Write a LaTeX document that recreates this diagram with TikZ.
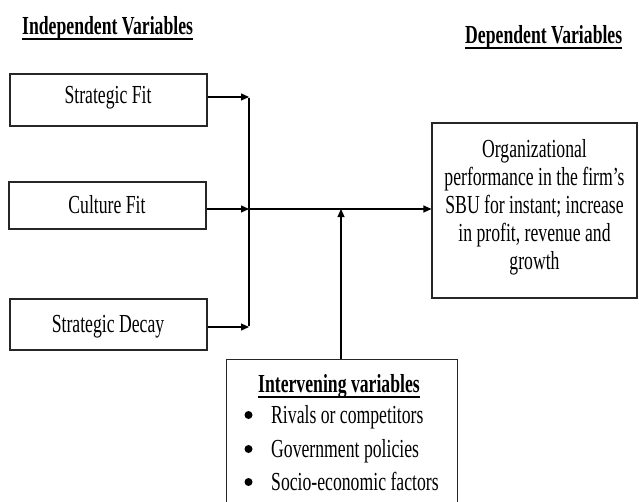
\documentclass[tikz,border=0pt]{standalone}
\usepackage{fontspec}
\setmainfont{Liberation Serif}[FakeStretch=0.68]
\usetikzlibrary{arrows.meta}
\tikzset{
  varbox/.style={draw=black!85, line width=1.1pt, rectangle, inner sep=0pt},
  conn/.style={line width=1.1pt, -{Triangle[length=8pt,width=7pt]}},
  plain/.style={line width=1.1pt},
  hdr/.style={inner sep=0pt, font=\fontsize{26}{28}\selectfont\bfseries},
  txt/.style={inner sep=0pt, font=\fontsize{26}{28}\selectfont},
  ul/.style={line width=2pt},
  dot/.style={circle, fill=black, inner sep=0pt, minimum size=8pt}
}
\begin{document}
\begin{tikzpicture}[x=1pt,y=-1pt]
\useasboundingbox[fill=white] (0,0) rectangle (639,501);
% headers
\node[hdr, anchor=base west] (indep) at (22,34) {Independent Variables};
\draw[ul] ([yshift=-5pt]indep.base west) -- ([yshift=-5pt]indep.base east);
\node[hdr, anchor=base west] (dephdr) at (465,43) {Dependent Variables};
\draw[ul] ([yshift=-5pt]dephdr.base west) -- ([yshift=-5pt]dephdr.base east);
% independent boxes
\node[varbox, minimum width=197pt, minimum height=52pt] (sf) at (108.5,100) {};
\node[txt, anchor=base] (sft) at (108,103) {Strategic Fit};
\node[varbox, minimum width=197pt, minimum height=47pt] (cf) at (107.5,205.5) {};
\node[txt, anchor=base] (cft) at (107,213) {Culture Fit};
\node[varbox, minimum width=197pt, minimum height=51pt] (sd) at (108.5,324.5) {};
\node[txt, anchor=base] (sdt) at (108,332) {Strategic Decay};
% junction coordinates
\coordinate (j1) at (249,97);
\coordinate (j2) at (249,209);
\coordinate (j3) at (249,327);
\draw[conn] (sf.east |- j1) -- (j1);
\draw[conn] (cf.east |- j2) -- (j2);
\draw[conn] (sd.east |- j3) -- (j3);
\draw[plain] ([yshift=-0.55pt]j1) -- ([yshift=0.55pt]j3);
% dependent box
\node[varbox, minimum width=205pt, minimum height=175pt] (dep) at (534.5,210.5) {};
\node[txt, align=center, anchor=base] (deptxt) at (534.5,269) {Organizational\\performance in the firm’s\\SBU for instant; increase\\in profit, revenue and\\growth};
\draw[conn] (j2) -- (dep.west |- j2);
% intervening box
\node[varbox, minimum width=231pt, minimum height=160pt, anchor=north west] (inter) at (226,359) {};
\node[hdr, anchor=base west] (intt) at (258,392) {Intervening variables};
\draw[ul] ([yshift=-5pt]intt.base west) -- ([yshift=-5pt]intt.base east);
\node[dot] (b1) at (248.5,415) {};
\node[txt, anchor=base west] (i1) at (271,423) {Rivals or competitors};
\node[dot] (b2) at (248.5,449) {};
\node[txt, anchor=base west] (i2) at (271,457) {Government policies};
\node[dot] (b3) at (248.5,482) {};
\node[txt, anchor=base west] (i3) at (271,490) {Socio-economic factors};
\coordinate (m) at (341,209);
\draw[conn] (inter.north -| m) -- (m);
\end{tikzpicture}
\end{document}
